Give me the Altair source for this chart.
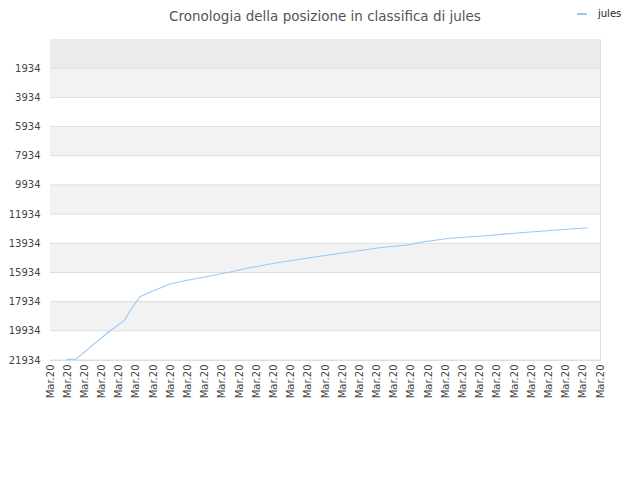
import altair as alt
import pandas as pd

# Line data (x position on the day axis, ranking)
x_pos = [1.0, 1.51, 2.33, 3.49, 4.31, 4.81, 5.24, 5.82, 6.94, 7.76, 8.92, 10.28,
         11.64, 13.19, 14.74, 16.29, 17.84, 19.39, 20.95, 21.53, 23.27, 25.19,
         27.35, 29.50, 31.29]
rank = [21890, 21880, 21065, 19927, 19242, 18282, 17597, 17295, 16747, 16521,
        16267, 15952, 15609, 15267, 14992, 14718, 14465, 14211, 14033, 13868,
        13594, 13436, 13210, 13025, 12868]
series_name = "jules"

y_ticks = [1934, 3934, 5934, 7934, 9934, 11934, 13934, 15934, 17934, 19934, 21934]
x_ticks = list(range(0, 33))
x_label = "Mar.20"

band_lo = [-66, 1934, 3934, 5934, 7934, 9934, 11934, 13934, 15934, 17934, 19934]
band_hi = [1934, 3934, 5934, 7934, 9934, 11934, 13934, 15934, 17934, 19934, 21934]
band_fill = ["#ebebeb", "#f2f2f2", "#ffffff", "#f2f2f2", "#ffffff", "#f2f2f2",
             "#ffffff", "#f2f2f2", "#ffffff", "#f2f2f2", "#ffffff"]

line_df = pd.DataFrame({"x": x_pos, "rank": rank, "name": series_name})
band_df = pd.DataFrame({"lo": band_lo, "hi": band_hi, "fill": band_fill})
grid_df = pd.DataFrame({"tick": y_ticks})

FONT = "DejaVu Sans"
yscale = alt.Scale(domain=[-66, 21934], reverse=True, nice=False, zero=False)
xscale = alt.Scale(domain=[0, 32], nice=False, zero=False)

yaxis = alt.Axis(values=y_ticks, title=None, grid=False, ticks=False,
                 domain=True, domainColor="#dddddd", labelFont=FONT, labelFontSize=10,
                 labelColor="#444444", labelPadding=10, format="d", labelOverlap=False)

bands = alt.Chart(band_df).mark_rect().encode(
    x=alt.value(0),
    x2=alt.value(550),
    y=alt.Y("lo:Q", scale=yscale, axis=yaxis),
    y2="hi:Q",
    fill=alt.Fill("fill:N", scale=None),
)

grid = alt.Chart(grid_df).mark_rule(color="#dddddd", strokeWidth=1).encode(
    x=alt.value(0),
    x2=alt.value(550),
    y=alt.Y("tick:Q", scale=yscale, axis=yaxis),
)

line = alt.Chart(line_df).mark_line(strokeWidth=1.1).encode(
    x=alt.X("x:Q", scale=xscale, axis=alt.Axis(
        values=x_ticks, labelExpr=f"'{x_label}'", title=None, labelAngle=270,
        labelFont=FONT, labelFontSize=10, labelColor="#444444", ticks=False,
        grid=False, domain=False, labelPadding=4, labelAlign="right",
        labelBaseline="middle", labelOverlap=False)),
    y=alt.Y("rank:Q", scale=yscale, axis=yaxis),
    color=alt.Color("name:N", scale=alt.Scale(domain=[series_name], range=["#99c9f5"]),
                    legend=alt.Legend(title=None, orient="none", legendX=526, legendY=-31,
                                      symbolType="stroke", symbolStrokeWidth=2,
                                      symbolSize=100, labelOffset=10, labelFont=FONT,
                                      labelFontSize=10, labelColor="#222222")),
)

chart = alt.layer(bands, grid, line).properties(
    width=550,
    height=321,
    padding={"left": 42, "top": 31, "right": 30, "bottom": 70},
    autosize=alt.AutoSizeParams(type="none"),
    title=alt.TitleParams("Cronologia della posizione in classifica di jules",
                          font=FONT, fontSize=13.5, fontWeight="normal",
                          color="#555555", anchor="middle", offset=-15, frame="group"),
).configure_view(stroke="#dddddd", strokeWidth=1).configure_axis(labelOverlap=False)

chart.save("out.html", embed_options={"renderer": "svg", "actions": False})
